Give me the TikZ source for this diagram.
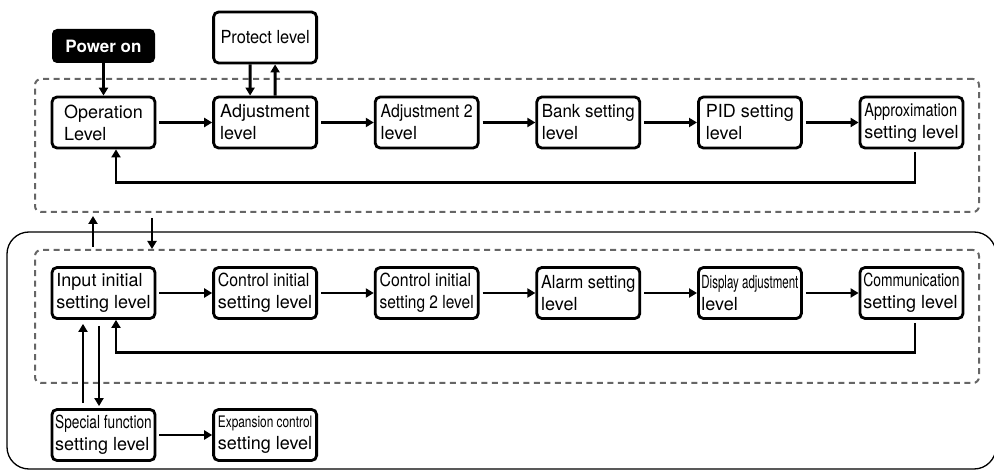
\documentclass[tikz,border=0pt]{standalone}
\usepackage{fontspec}
\setmainfont{TeX Gyre Heros}
\usepackage{graphicx}
\usetikzlibrary{arrows.meta,positioning}
\definecolor{Ink}{HTML}{000000}
\definecolor{GroupGray}{HTML}{666666}
\newcommand{\narrowtxt}[2]{\scalebox{#1}[1]{#2}}

\begin{document}
\begin{tikzpicture}[x=1pt,y=-1pt,
  level/.style={draw=Ink,line width=2.8pt,rounded corners=5pt,fill=white,minimum width=103pt,minimum height=51pt,inner xsep=0.5pt,inner ysep=2pt,align=left,font=\fontsize{18}{22}\selectfont},
  start/.style={fill=Ink,text=white,rounded corners=5pt,minimum width=103pt,minimum height=34pt,font=\fontsize{17}{21}\selectfont\bfseries},
  grp/.style={draw=GroupGray,line width=2pt,dash pattern=on 6pt off 4.5pt,rounded corners=6pt,minimum width=944pt,minimum height=133pt},
  arr/.style={draw=Ink,line width=2.8pt,-{Triangle[length=8pt,width=9pt]}},
  node distance=55.8pt]
  \useasboundingbox (0,0) rectangle (994,470);
  % outer frame of the initial setting levels
  \draw[Ink,line width=1.3pt,rounded corners=22pt] (7,232) rectangle (996,469);
  \node[grp] (upper) at (507,145.5) {};
  \node[grp] (lower) at (507,316.5) {};
  % top row
  \node[start] (pwr) at (103.5,46) {Power on};
  \node[level] (prot) at (265.1,37.5) {\narrowtxt{0.91}{Protect level}};
  \node[level] (op) at (103.5,122.5) {Operation\\Level};
  \node[level,right=of op] (adj) {Adjustment\\level};
  \node[level,right=of adj] (adjtwo) {\narrowtxt{0.88}{Adjustment 2}\\level};
  \node[level,right=of adjtwo] (bank) {\narrowtxt{0.94}{Bank setting}\\level};
  \node[level,right=of bank] (pid) {PID setting\\level};
  \node[level,right=of pid] (appr) {\narrowtxt{0.81}{Approximation}\\setting level};
  % bottom row
  \node[level] (inp) at (103.5,293) {Input initial\\setting level};
  \node[level,right=of inp] (ctl) {\narrowtxt{0.88}{Control initial}\\setting level};
  \node[level,right=of ctl] (ctltwo) {\narrowtxt{0.88}{Control initial}\\\narrowtxt{0.86}{setting 2 level}};
  \node[level,right=of ctltwo] (alarm) {\narrowtxt{0.9}{Alarm setting}\\level};
  \node[level,right=of alarm] (disp) {\narrowtxt{0.64}{Display adjustment}\\level};
  \node[level,right=of disp] (comm) {\narrowtxt{0.77}{Communication}\\setting level};
  \node[level] (spec) at (103.5,435) {\narrowtxt{0.76}{Special function}\\setting level};
  \node[level,right=of spec] (expn) {\scalebox{0.66}[0.88]{Expansion control}\\setting level};

  \draw[arr] (pwr) -- (op);
  \draw[arr] ([xshift=-15pt]prot.south) -- ([xshift=-15pt]adj.north);
  \draw[arr] ([xshift=10pt]adj.north) -- ([xshift=10pt]prot.south);
  \foreach \a/\b in {op/adj,adj/adjtwo,adjtwo/bank,bank/pid,pid/appr,inp/ctl,ctl/ctltwo,ctltwo/alarm,alarm/disp,disp/comm,spec/expn}
    \draw[arr,shorten <=3pt] (\a) -- (\b);
  \draw[arr,shorten <=3pt] ([xshift=3.5pt]appr.south) -- ++(0,33) -| ([xshift=12.5pt]op.south);
  \draw[arr,shorten <=3pt] ([xshift=3.5pt]comm.south) -- ++(0,32.5) -| ([xshift=12.5pt]inp.south);
  % between the two groups
  \draw[arr,shorten <=2pt,shorten >=3pt] ([xshift=-10.5pt]inp.north |- lower.north) -- ([xshift=-10.5pt]inp.north |- upper.south);
  \draw[arr,shorten <=5pt] ([xshift=48.5pt]op.south |- upper.south) -- ([xshift=48.5pt]op.south |- lower.north);
  \draw[arr,shorten <=5pt,shorten >=4pt] ([xshift=-20.5pt]spec.north) -- ([xshift=-20.5pt]inp.south);
  \draw[arr,shorten <=6pt,shorten >=2pt] ([xshift=-4.5pt]inp.south) -- ([xshift=-4.5pt]spec.north);
\end{tikzpicture}
\end{document}
